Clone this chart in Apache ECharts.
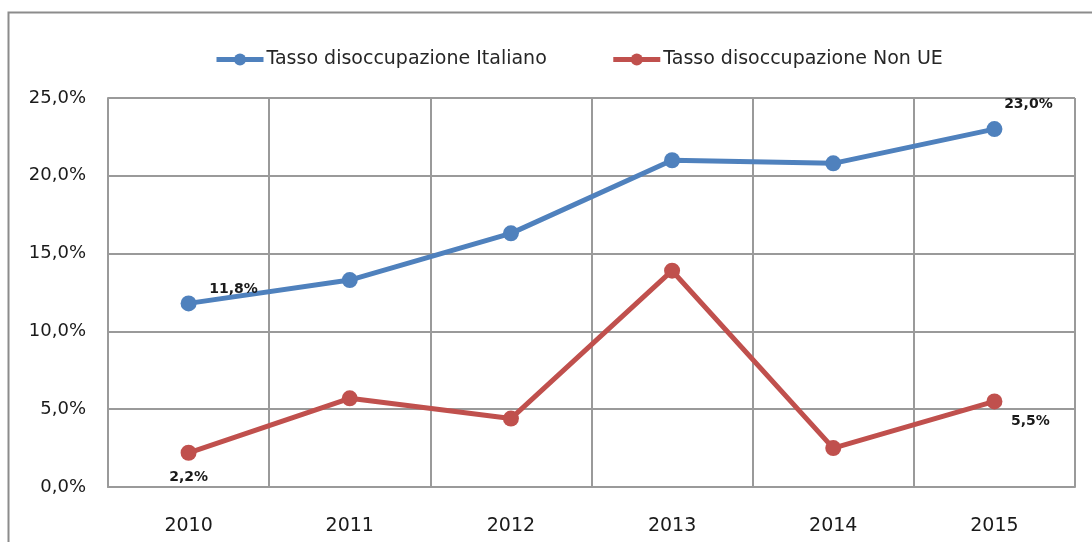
<!DOCTYPE html>
<html>
<head>
<meta charset="utf-8">
<script src="https://cdn.jsdelivr.net/npm/echarts@6/dist/echarts.min.js"></script>
<style>
  html, body { margin: 0; padding: 0; background: #fff; }
  #chart { width: 1092px; height: 542px; }
</style>
</head>
<body>
<div id="chart"></div>
<script>
// anni
const years = ['2010', '2011', '2012', '2013', '2014', '2015']
// tassi in %
const italiani = [11.8, 13.3, 16.3, 21.0, 20.8, 23.0]
const nonUE = [2.2, 5.7, 4.4, 13.9, 2.5, 5.5]
const yTicks = [0, 5, 10, 15, 20, 25]

const FONT = '"DejaVu Sans", sans-serif'
const fmt = v => v.toFixed(1).replace('.', ',') + '%'

// etichetta solo sul primo e ultimo punto
function withLabels(arr, first, last) {
  return arr.map((v, i) => {
    if (i === 0) return { value: v, label: Object.assign({ show: true }, first) }
    if (i === arr.length - 1) return { value: v, label: Object.assign({ show: true }, last) }
    return v
  })
}

const chart = echarts.init(document.getElementById('chart'))

const labelStyle = {
  fontFamily: FONT,
  fontSize: 14,
  fontWeight: 'bold',
  color: '#1a1a1a',
  formatter: p => fmt(p.value)
}

chart.setOption({
  animation: false,
  textStyle: { fontFamily: FONT },
  graphic: [{
    type: 'rect',
    shape: { x: 8.5, y: 12.5, width: 1200, height: 600 },
    style: { fill: 'none', stroke: '#8c8c8c', lineWidth: 2 },
    silent: true
  }],
  legend: {
    top: 45,
    left: 209,
    itemWidth: 47,
    itemHeight: 15,
    itemGap: 64,
    lineStyle: { width: 5 },
    textStyle: { fontFamily: FONT, fontSize: 19, color: '#262626', padding: [0, 0, 0, -2] },
    data: ['Tasso disoccupazione Italiano', 'Tasso disoccupazione Non UE']
  },
  grid: { left: 108, right: 17, top: 98, bottom: 55, containLabel: false },
  xAxis: {
    type: 'category',
    data: years,
    boundaryGap: true,
    axisLine: { show: true, lineStyle: { color: '#9a9a9a', width: 2 } },
    axisTick: { show: false },
    axisLabel: { fontFamily: FONT, fontSize: 19, color: '#1a1a1a', margin: 30 },
    splitLine: { show: true, lineStyle: { color: '#9a9a9a', width: 2 } }
  },
  yAxis: {
    type: 'value',
    min: yTicks[0],
    max: yTicks[yTicks.length - 1],
    interval: 5,
    axisLine: { show: true, lineStyle: { color: '#9a9a9a', width: 2 } },
    axisTick: { show: false },
    axisLabel: { fontFamily: FONT, fontSize: 18, color: '#1a1a1a', margin: 22, formatter: v => fmt(v) },
    splitLine: { show: true, lineStyle: { color: '#9a9a9a', width: 2 } }
  },
  series: [
    {
      name: 'Tasso disoccupazione Italiano',
      type: 'line',
      data: withLabels(italiani,
        Object.assign({}, labelStyle, { position: 'top', offset: [45, 6] }),
        Object.assign({}, labelStyle, { position: 'top', offset: [34, -5] })),
      symbol: 'circle',
      symbolSize: 16,
      lineStyle: { width: 5, color: '#4f81bd' },
      itemStyle: { color: '#4f81bd' },
      z: 3
    },
    {
      name: 'Tasso disoccupazione Non UE',
      type: 'line',
      data: withLabels(nonUE,
        Object.assign({}, labelStyle, { position: 'bottom', offset: [0, 5] }),
        Object.assign({}, labelStyle, { position: 'bottom', offset: [36, 0] })),
      symbol: 'circle',
      symbolSize: 16,
      lineStyle: { width: 5, color: '#c0504d' },
      itemStyle: { color: '#c0504d' },
      z: 3
    }
  ]
})
</script>
</body>
</html>
